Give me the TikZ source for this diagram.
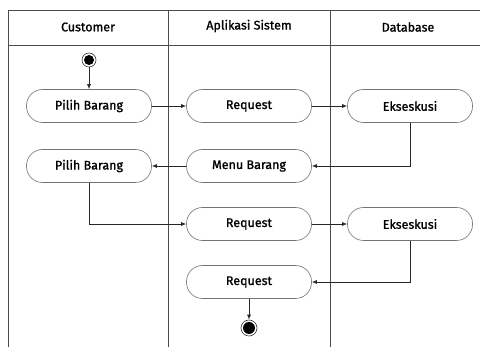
\documentclass[tikz,border=0pt]{standalone}
\usepackage{fontspec}
\setmainfont{Fira Sans}
\newfontfamily\semifont{Fira Sans}[FakeBold=1.2]
\usetikzlibrary{arrows.meta}

\begin{document}
\begin{tikzpicture}[x=1pt, y=-1pt,
    act/.style = {draw=black!55, line width=0.6pt, rounded corners=16pt,
                  minimum width=125pt, minimum height=33pt, inner sep=0pt,
                  font=\semifont\fontsize{12.5}{14}\selectfont},
    lane/.style = {font=\semifont\fontsize{12.5}{14}\selectfont},
    flow/.style = {draw=black!85, line width=0.8pt, -{Latex[length=5pt,width=4pt]}}]
    \useasboundingbox (0,0) rectangle (480,347);

    % swimlanes
    \draw[black!70, line width=0.8pt] (480,10) -- (8,10) -- (8,347);
    \draw[black!70, line width=0.8pt] (8,45) -- (480,45);
    \draw[black!70, line width=0.8pt] (168,10) -- (168,347);
    \draw[black!70, line width=0.8pt] (330,10) -- (330,347);

    \node[lane] (hcust) at (88,27) {Customer};
    \node[lane] (happ)  at (249,26) {Aplikasi Sistem};
    \node[lane] (hdb)   at (408,27) {Database};

    % start and end
    \node[circle, draw=black!80, line width=0.6pt, minimum size=14pt, inner sep=0pt] (start) at (89,60) {};
    \fill[black] (start) circle (5pt);
    \node[circle, draw=black!80, line width=0.6pt, minimum size=16pt, inner sep=0pt] (stop) at (249,328) {};
    \fill[black] (stop) circle (6pt);

    % activities
    \node[act] (pilih1) at (89,106)  {Pilih Barang};
    \node[act] (req1)   at (249,106) {Request};
    \node[act] (eks1)   at (410,106) {Ekseskusi};
    \node[act] (pilih2) at (89,166)  {Pilih Barang};
    \node[act] (menu)   at (249,166) {Menu Barang};
    \node[act] (req2)   at (249,224) {Request};
    \node[act] (eks2)   at (410,224) {Ekseskusi};
    \node[act] (req3)   at (249,282) {Request};

    % flows
    \draw[flow] (start) -- (pilih1);
    \draw[flow] (pilih1) -- (req1);
    \draw[flow] (req1) -- (eks1);
    \draw[flow] (eks1.south) |- (menu.east);
    \draw[flow] (menu) -- (pilih2);
    \draw[flow] (pilih2.south) |- (req2.west);
    \draw[flow] (req2) -- (eks2);
    \draw[flow] (eks2.south) |- (req3.east);
    \draw[flow] (req3) -- (stop);
\end{tikzpicture}
\end{document}
